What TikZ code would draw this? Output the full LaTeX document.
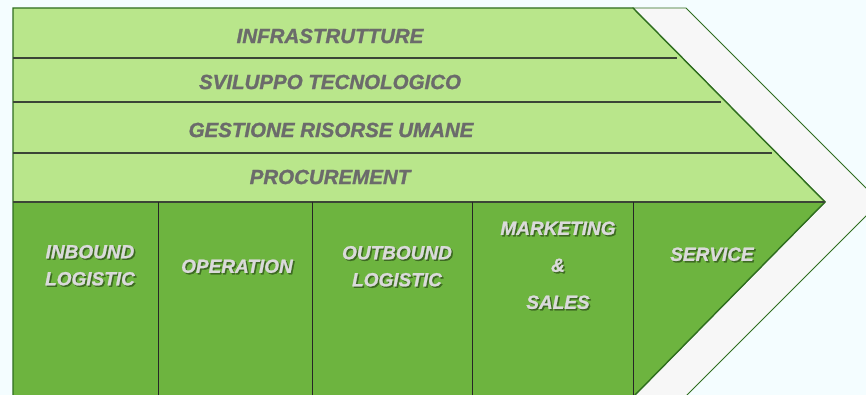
\documentclass[tikz,border=0pt]{standalone}
\usepackage{fontspec}
\setmainfont{Liberation Sans}
\newfontfamily\heavyfont[FakeBold=1.3]{Liberation Sans Bold Italic}
\usetikzlibrary{positioning}

\definecolor{bgcyan}{HTML}{F4FDFF}
\definecolor{lightgreen}{HTML}{B9E68B}
\definecolor{darkgreen}{HTML}{6DB43F}
\definecolor{edgegreen}{HTML}{2F6E1F}
\definecolor{bandwhite}{HTML}{F7F7F7}
\definecolor{linegrey}{HTML}{3B4536}
\definecolor{toptext}{HTML}{6B6B6B}
\definecolor{bottext}{HTML}{DADADA}
\definecolor{txtshadow}{HTML}{3D6A22}

% light text with a small dark shadow
\newcommand{\shad}[1]{\makebox[0pt][l]{\hspace{1.5pt}\raisebox{-1.5pt}{\textcolor{txtshadow}{#1}}}#1}

\begin{document}
\begin{tikzpicture}[x=1pt,y=1pt]
        \tikzstyle{support}=[text=toptext, font=\fontsize{20.5}{24}\selectfont\heavyfont]
        \tikzstyle{primary}=[text=bottext, align=center, font=\fontsize{19}{27}\selectfont\heavyfont]

        \useasboundingbox (0,0) rectangle (866,395);
        \fill[bgcyan] (0,0) rectangle (866,395);
        \clip (0,0) rectangle (866,395);

        % white band round the arrow
        \draw[edgegreen, fill=bandwhite, line width=0.8pt] (633,387) -- (686,387) -- (880,193) -- (686,-1) -- (634,-1) -- (825,193) -- cycle;

        % support and primary parts
        \fill[lightgreen] (13,387) -- (633,387) -- (825,193) -- (13,193) -- cycle;
        \fill[darkgreen] (13,193) -- (825,193) -- (634,-1) -- (13,-1) -- cycle;
        \draw[edgegreen, line width=1.4pt] (13,-1) -- (13,387) -- (633,387) -- (825,193) -- (634,-1);

        \draw[linegrey, line width=1.1pt] (13,337) -- (677,337);
        \draw[linegrey, line width=1.1pt] (13,293) -- (721,293);
        \draw[linegrey, line width=1.1pt] (13,242) -- (772,242);
        \draw[linegrey, line width=1.1pt] (13,193) -- (825,193);

        \draw[black!85, line width=0.9pt] (158,193) -- (158,-1);
        \draw[black!85, line width=0.9pt] (312,193) -- (312,-1);
        \draw[black!85, line width=0.9pt] (472,193) -- (472,-1);
        \draw[black!85, line width=0.9pt] (633,193) -- (633,-1);

        \node[support] (infra) at (330,359) {INFRASTRUTTURE};
        \node[support] (svil) at (330,313) {SVILUPPO TECNOLOGICO};
        \node[support] (gest) at (331,265) {GESTIONE RISORSE UMANE};
        \node[support] (proc) at (330,218) {PROCUREMENT};

        \node[primary] (inb) at (90,129) {\shad{INBOUND}\\\shad{LOGISTIC}};
        \node[primary] (oper) at (237,128) {\shad{OPERATION}};
        \node[primary] (outb) at (397,128) {\shad{OUTBOUND}\\\shad{LOGISTIC}};
        \node[primary] (mark) at (558,129) {\shad{MARKETING}\\[10pt]\shad{\&}\\[10pt]\shad{SALES}};
        \node[primary] (serv) at (712,140) {\shad{SERVICE}};
      \end{tikzpicture}
\end{document}
